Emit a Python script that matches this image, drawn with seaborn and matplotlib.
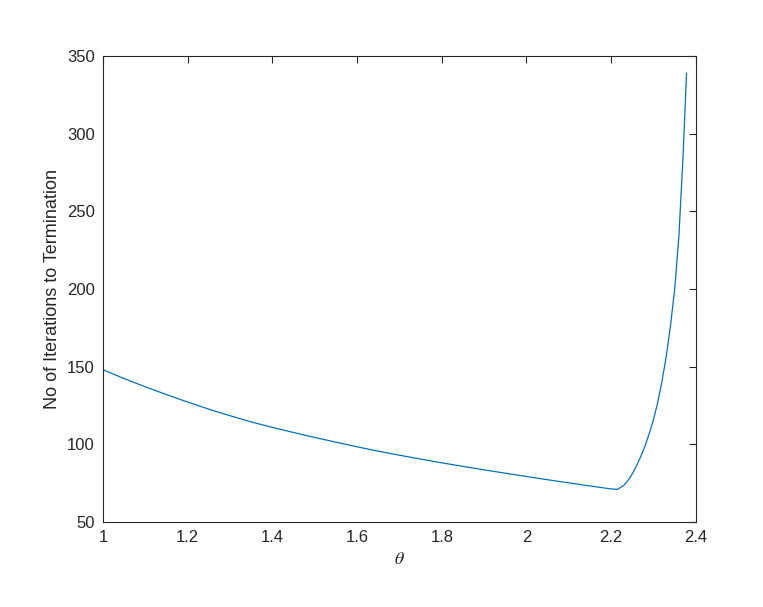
import matplotlib
matplotlib.use("Agg")
import matplotlib.pyplot as plt
import pandas as pd
import seaborn as sns

# theta değerleri ve sonlanmaya kadar geçen iterasyon sayıları
theta = [1.00, 1.05, 1.10, 1.15, 1.20, 1.25, 1.30, 1.35, 1.40, 1.45,
         1.50, 1.55, 1.60, 1.65, 1.70, 1.75, 1.80, 1.85, 1.90, 1.95,
         2.00, 2.05, 2.10, 2.15, 2.20, 2.215, 2.23, 2.24, 2.25, 2.26,
         2.27, 2.28, 2.29, 2.30, 2.31, 2.32, 2.33, 2.34, 2.35, 2.36,
         2.37, 2.378]
iterations = [148, 142.3, 137, 132, 127.2, 122.6, 118.4, 114.4, 110.9, 107.6,
              104.4, 101.4, 98.4, 95.6, 93, 90.5, 88.1, 85.8, 83.6, 81.4,
              79.3, 77.2, 75.2, 73.2, 71.3, 71, 73.6, 76.8, 81, 86.2,
              92.2, 99, 107, 116, 127, 140.5, 156.5, 176, 200, 234,
              287, 339]

x_ticks = [1, 1.2, 1.4, 1.6, 1.8, 2, 2.2, 2.4]
x_tick_labels = ["1", "1.2", "1.4", "1.6", "1.8", "2", "2.2", "2.4"]
y_ticks = [50, 100, 150, 200, 250, 300, 350]

df = pd.DataFrame({"theta": theta, "iterations": iterations})

sns.set_theme(style="white")
plt.rcParams["font.family"] = ["Liberation Sans", "DejaVu Sans"]
plt.rcParams["mathtext.fontset"] = "stix"

axis_color = "#262626"

fig = plt.figure(figsize=(7.63, 6.07), dpi=100)
ax = fig.add_axes([0.135, 0.140, 0.777, 0.768])

sns.lineplot(data=df, x="theta", y="iterations", ax=ax, color="#0072BD", linewidth=0.9)

ax.set_xlim(1, 2.4)
ax.set_ylim(50, 350)
ax.set_xticks(x_ticks)
ax.set_xticklabels(x_tick_labels)
ax.set_yticks(y_ticks)

ax.tick_params(direction="in", length=5, width=0.8, colors=axis_color,
               labelsize=12, top=True, right=True, pad=6)
for spine in ax.spines.values():
    spine.set_color(axis_color)
    spine.set_linewidth(0.8)

ax.set_xlabel(r"$\theta$", fontsize=13, color=axis_color)
ax.set_ylabel("No of Iterations to Termination", fontsize=13, color=axis_color)

fig.savefig("out.png", dpi=100)
plt.close(fig)
